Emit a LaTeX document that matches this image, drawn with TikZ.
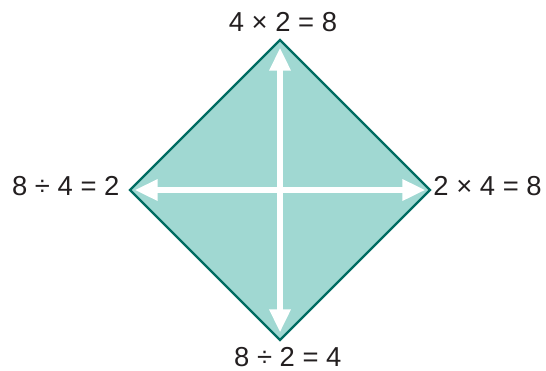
\documentclass[tikz,border=0pt]{standalone}
\usepackage{fontspec}
\setmainfont{Liberation Sans}
\usepackage{tikz}
\usetikzlibrary{arrows.meta,positioning,calc}
\definecolor{tealfill}{RGB}{160,216,210}
\definecolor{tealline}{RGB}{0,108,98}
\definecolor{textgrey}{RGB}{35,31,32}

\begin{document}
\begin{tikzpicture}[x=1cm,y=1cm,>=Latex]
\tikzset{
  eqlabel/.style={text=textgrey,inner sep=0pt,font=\fontsize{13}{15}\selectfont},
  whitearrow/.style={white,line width=2.4pt,{Triangle[length=0.38cm,width=0.34cm]}-{Triangle[length=0.38cm,width=0.34cm]}}
}
\useasboundingbox (-4.667,-3) rectangle (4.433,3.167);
% vertices of the diamond
\coordinate (top) at (0,2.5);
\coordinate (bot) at (0,-2.5);
\coordinate (lft) at (-2.5,0);
\coordinate (rgt) at (2.5,0);
\draw[tealline,fill=tealfill,line width=1.1pt,line join=miter] (top)--(rgt)--(bot)--(lft)--cycle;
% arrow ends
\coordinate (vt) at (0,2.37);
\coordinate (vb) at (0,-2.37);
\coordinate (hl) at (-2.42,0);
\coordinate (hr) at (2.42,0);
\draw[whitearrow] (vt)--(vb);
\draw[whitearrow] (hl)--(hr);
% labels
\node[eqlabel,anchor=base] (ltop) at ($(top)+(0.05,0.14)$) {4 × 2 = 8};
\node[eqlabel,anchor=east] (llft) at ($(lft)+(-0.17,0.06)$) {8 ÷ 4 = 2};
\node[eqlabel,anchor=west] (lrgt) at ($(rgt)+(0.05,0.06)$) {2 × 4 = 8};
\node[eqlabel,anchor=north] (lbot) at ($(bot)+(0.13,-0.11)$) {8 ÷ 2 = 4};
\end{tikzpicture}
\end{document}
